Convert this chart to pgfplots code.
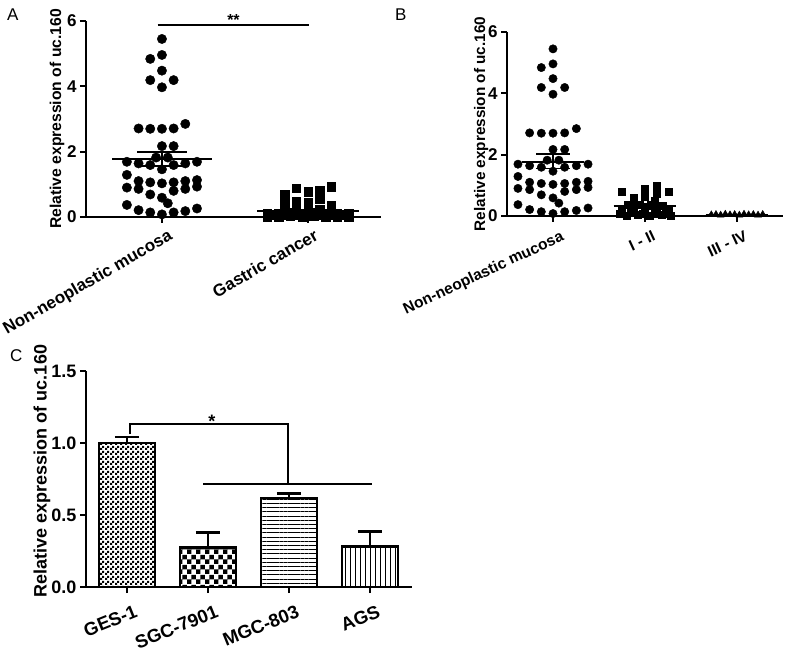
\documentclass[border=0pt]{standalone}
\usepackage{fontspec}
\setmainfont{Liberation Sans}
\usepackage{pgfplots}
\pgfplotsset{compat=1.18}
\usepackage{pgfplotstable}
\usetikzlibrary{patterns, patterns.meta}

\pgfdeclarepatternformonly{finecheck}{\pgfqpoint{0pt}{0pt}}{\pgfqpoint{5pt}{5pt}}{\pgfqpoint{5pt}{5pt}}{%
 \pgfpathrectangle{\pgfqpoint{0pt}{0pt}}{\pgfqpoint{2.5pt}{2.5pt}}%
 \pgfpathrectangle{\pgfqpoint{2.5pt}{2.5pt}}{\pgfqpoint{2.5pt}{2.5pt}}%
 \pgfusepath{fill}}
\pgfdeclarepatternformonly{bigcheck}{\pgfqpoint{0pt}{0pt}}{\pgfqpoint{9.4pt}{9.4pt}}{\pgfqpoint{9.4pt}{9.4pt}}{%
 \pgfpathrectangle{\pgfqpoint{0pt}{0pt}}{\pgfqpoint{4.7pt}{4.7pt}}%
 \pgfpathrectangle{\pgfqpoint{4.7pt}{4.7pt}}{\pgfqpoint{4.7pt}{4.7pt}}%
 \pgfusepath{fill}}

% column offset c (one column = about 11.7 px), value y
\pgfplotstableread{
c y
0 5.45
-1 4.84
0 4.96
0 4.48
-1 4.19
1 4.19
0 3.97
-2 2.71
-1 2.70
0 2.70
1 2.71
2 2.85
0 2.17
1 2.17
-0.5 1.82
0.5 1.82
-3 1.69
-2 1.64
-1 1.59
0 1.46
1 1.59
2 1.64
3 1.69
-3 1.29
-2 1.10
-1 1.06
0 1.03
1 1.06
2 1.10
3 1.13
-3 0.90
-2 0.86
-1 0.69
1 0.80
2 0.86
3 0.93
0 0.59
0.5 0.42
-3 0.37
-2 0.21
-1 0.14
0 0.08
1 0.14
2 0.18
3 0.26
}\normal

\pgfplotstableread{
c y
2 0.93
-1 0.88
1 0.80
0 0.77
-2 0.70
1 0.55
-1 0.49
0 0.45
-2 0.42
2 0.35
-2 0.22
-1 0.24
0 0.22
1 0.24
2 0.22
-3.5 0.12
-2.5 0.12
-1.5 0.13
-0.5 0.12
0.5 0.13
1.5 0.12
2.5 0.12
3.5 0.11
-3 0.06
-2 0.05
-1 0.06
0 0.05
1 0.06
2 0.05
3 0.06
-3.5 0.01
-2.5 0.01
-1.5 0.02
-0.5 0.01
0.5 0.02
1.5 0.01
2.5 0.01
3.5 0.01
}\cancer

\pgfplotstableread{
c y
-2 0.79
0 0.90
1 0.98
1 0.72
2 0.79
-1 0.58
0 0.62
0.8 0.50
-1.5 0.36
-0.5 0.38
0.5 0.35
1.5 0.34
-2 0.20
-1 0.22
0 0.24
1 0.20
2 0.18
-2.2 0.08
-1.2 0.10
-0.2 0.07
0.8 0.09
1.8 0.08
-1.6 0.02
-0.6 0.03
0.4 0.02
1.4 0.03
2.2 0.02
}\early

\pgfplotstableread{
c y
-2.2 0.04
-1.8 0.05
-1.4 0.03
-1.0 0.06
-0.6 0.04
-0.2 0.05
0.2 0.03
0.6 0.06
1.0 0.04
1.4 0.05
1.8 0.03
2.2 0.05
}\late

\pgfplotsset{
  panel/.style={
    scale only axis, axis lines*=left,
    axis line style={line width=1.8pt, -},
    tick style={line width=1.8pt, black},
    tick align=outside, major tick length=6pt,
    clip=false, ymin=0,
    /pgf/number format/assume math mode=true,
    tick label style={font=\fontsize{17}{17}\selectfont\bfseries},
  },
  meanline/.style={black, line width=1.8pt, forget plot},
  barerr/.style={ybar, bar width=0.69, draw=black, line width=2.5pt,
    error bars/y dir=plus, error bars/y explicit,
    error bars/error bar style={line width=2.5pt, black},
    error bars/error mark options={rotate=90, mark size=12pt, line width=2.5pt, black}},
}

\begin{document}
\begin{tikzpicture}
\path[use as bounding box] (0pt,0pt) rectangle (790pt,659pt);

% ---------------- Panel A ----------------
\node[anchor=base west, inner sep=0pt, font=\fontsize{17}{17}\selectfont] at (7pt,638pt) {A};
\begin{axis}[panel, at={(86pt,442pt)}, anchor=south west,
  width=295pt, height=196pt,
  xmin=-0.52, xmax=1.5, ymax=6,
  ytick={0,2,4,6},
  xtick={0,1}, xticklabels={Non-neoplastic mucosa, Gastric cancer},
  xticklabel style={rotate=30, anchor=north east, inner sep=1pt, yshift=-6pt, xshift=3pt, font=\fontsize{17}{17}\selectfont\bfseries},
  ylabel={Relative expression of uc.160},
  ylabel style={at={(axis description cs:-0.098,0.5)}, anchor=center, font=\fontsize{15.7}{16}\selectfont\bfseries},
]
\addplot[only marks, mark=*, mark size=4.7pt, black] table[x expr=\thisrow{c}*0.08, y=y]{\normal};
\addplot[only marks, mark=square*, mark size=4.2pt, black] table[x expr=1+\thisrow{c}*0.08, y=y]{\cancer};
\addplot[meanline] coordinates {(-0.34,1.77) (0.34,1.77)};
\addplot[meanline] coordinates {(-0.17,2.0) (0.17,2.0)};
\addplot[meanline] coordinates {(-0.17,1.55) (0.17,1.55)};
\addplot[meanline] coordinates {(0,1.55) (0,2.0)};
\addplot[meanline] coordinates {(0.65,0.19) (1.35,0.19)};
\addplot[meanline] coordinates {(0.83,0.23) (1.17,0.23)};
\addplot[meanline] coordinates {(0.83,0.15) (1.17,0.15)};
\draw[line width=1.5pt] (axis cs:-0.03,5.88) -- (axis cs:1.01,5.88);
\node[anchor=base, inner sep=0pt, font=\fontsize{16}{16}\selectfont\bfseries] at (axis cs:0.49,5.86) {**};
\end{axis}

% ---------------- Panel B ----------------
\node[anchor=base west, inner sep=0pt, font=\fontsize{17}{17}\selectfont] at (395pt,638pt) {B};
\begin{axis}[panel, at={(507pt,443pt)}, anchor=south west,
  width=276pt, height=184pt,
  xmin=-0.5, xmax=2.5, ymax=6,
  ytick={0,2,4,6},
  xtick={0,1,2}, xticklabels={Non-neoplastic mucosa, I - II, III - IV},
  xticklabel style={rotate=25, anchor=north east, inner sep=1pt, yshift=-9pt, xshift=4pt, font=\fontsize{15.5}{15.5}\selectfont\bfseries},
  ylabel={Relative expression of uc.160},
  ylabel style={at={(axis description cs:-0.094,0.5)}, anchor=center, font=\fontsize{15.3}{16}\selectfont\bfseries},
]
\addplot[only marks, mark=*, mark size=4.2pt, black] table[x expr=\thisrow{c}*0.127, y=y]{\normal};
\addplot[only marks, mark=square*, mark size=3.6pt, black] table[x expr=1+\thisrow{c}*0.127, y=y]{\early};
\addplot[only marks, mark=triangle*, mark size=4pt, black] table[x expr=2+\thisrow{c}*0.127, y=y]{\late};
\addplot[meanline] coordinates {(-0.34,1.77) (0.34,1.77)};
\addplot[meanline] coordinates {(-0.18,2.01) (0.18,2.01)};
\addplot[meanline] coordinates {(-0.18,1.55) (0.18,1.55)};
\addplot[meanline] coordinates {(0,1.55) (0,2.01)};
\addplot[meanline] coordinates {(0.66,0.33) (1.34,0.33)};
\addplot[meanline] coordinates {(0.83,0.40) (1.17,0.40)};
\addplot[meanline] coordinates {(0.83,0.26) (1.17,0.26)};
\addplot[meanline] coordinates {(1.66,0.03) (2.34,0.03)};
\end{axis}

% ---------------- Panel C ----------------
\node[anchor=base west, inner sep=0pt, font=\fontsize{17}{17}\selectfont] at (10pt,297pt) {C};
\begin{axis}[panel, at={(86pt,72pt)}, anchor=south west,
  width=326pt, height=216pt,
  xmin=-0.506, xmax=3.52, ymax=1.5,
  ytick={0,0.5,1,1.5},
  yticklabel style={/pgf/number format/.cd, fixed, fixed zerofill, precision=1},
  tick label style={font=\fontsize{18}{18}\selectfont\bfseries},
  xtick={0,1,2,3}, xticklabels={GES-1, SGC-7901, MGC-803, AGS},
  xticklabel style={rotate=22, anchor=north east, inner sep=1pt, yshift=-12pt, xshift=3pt, font=\fontsize{18.5}{18.5}\selectfont\bfseries},
  ylabel={Relative expression of uc.160},
  ylabel style={at={(axis description cs:-0.135,0.537)}, anchor=center, font=\fontsize{18}{18}\selectfont\bfseries},
]
\addplot[barerr, pattern=finecheck] coordinates {(0,1.0) +- (0,0.04)};
\addplot[barerr, pattern=bigcheck] coordinates {(1,0.276) +- (0,0.104)};
\addplot[barerr, pattern={Lines[angle=0, distance=4.2pt, line width=1pt]}] coordinates {(2,0.618) +- (0,0.032)};
\addplot[barerr, pattern={Lines[angle=90, distance=5pt, line width=1pt]}] coordinates {(3,0.28) +- (0,0.104)};
\draw[line width=1.6pt] (axis cs:0.04,1.06) -- (axis cs:0.04,1.13) -- (axis cs:1.99,1.13) -- (axis cs:1.99,0.717);
\draw[line width=1.6pt] (axis cs:0.94,0.717) -- (axis cs:3.02,0.717);
\node[anchor=base, inner sep=0pt, font=\fontsize{18}{18}\selectfont\bfseries] at (axis cs:1.05,1.105) {*};
\end{axis}
\end{tikzpicture}
\end{document}
